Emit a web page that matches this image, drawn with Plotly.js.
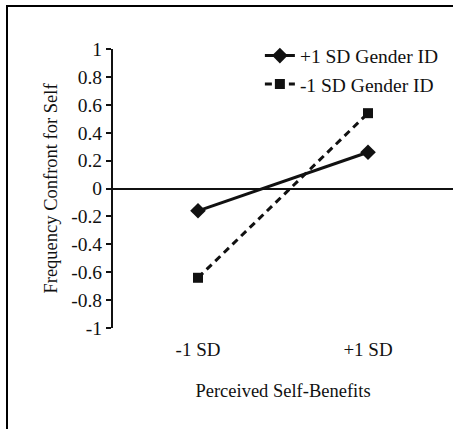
<!DOCTYPE html>
<html>
<head>
<meta charset="utf-8">
<script src="https://cdn.plot.ly/plotly-3.0.1.min.js"></script>
<style>
  html, body { margin: 0; padding: 0; background: #fff; }
  #wrap { position: relative; width: 453px; height: 429px; overflow: hidden; }
  #chart { position: absolute; left: 0; top: 0; width: 453px; height: 429px; }
  #frame { position: absolute; left: 6px; top: 5px; width: 460px; height: 440px;
           border-left: 2px solid #000; border-top: 2px solid #000; pointer-events: none; }
</style>
</head>
<body>
<div id="wrap">
  <div id="chart"></div>
  <div id="frame"></div>
</div>
<script>
const categories = ["-1 SD", "+1 SD"];
const highGenderID = [-0.16, 0.26];
const lowGenderID = [-0.64, 0.54];
const seriesNames = ["+1 SD Gender ID", "-1 SD Gender ID"];
const yTickVals = [-1, -0.8, -0.6, -0.4, -0.2, 0, 0.2, 0.4, 0.6, 0.8, 1];
const yTickText = ["-1", "-0.8", "-0.6", "-0.4", "-0.2", "0", "0.2", "0.4", "0.6", "0.8", "1"];

const font = "Liberation Serif";

const traces = [
  {
    x: categories, y: highGenderID, name: seriesNames[0],
    type: "scatter", mode: "lines+markers",
    line: { color: "#111", width: 3 },
    marker: { symbol: "diamond", size: 12, color: "#111" }
  },
  {
    x: categories, y: lowGenderID, name: seriesNames[1],
    type: "scatter", mode: "lines+markers",
    line: { color: "#111", width: 3, dash: "7px,5px" },
    marker: { symbol: "square", size: 10, color: "#111" }
  }
];

const layout = {
  width: 453, height: 429,
  margin: { l: 113, r: 0, t: 49, b: 101 },
  paper_bgcolor: "#fff", plot_bgcolor: "#fff",
  font: { family: font, size: 18, color: "#111" },
  showlegend: true,
  legend: {
    x: 0.432, y: 1.045, xanchor: "left", yanchor: "top",
    bgcolor: "rgba(0,0,0,0)", font: { family: font, size: 19.5, color: "#111" },
    tracegroupgap: 0
  },
  xaxis: {
    type: "category", range: [-0.5, 1.5],
    showline: false, zeroline: false, showgrid: false, ticks: "",
    ticklabelstandoff: 8,
    tickfont: { family: font, size: 19 },
    title: { text: "Perceived Self-Benefits", font: { family: font, size: 18.5 }, standoff: 25 }
  },
  yaxis: {
    range: [-1, 1], tickvals: yTickVals, ticktext: yTickText,
    showline: true, linecolor: "#111", linewidth: 2,
    ticks: "outside", ticklen: 5, tickwidth: 2, tickcolor: "#111",
    showgrid: false, zeroline: true, zerolinecolor: "#111", zerolinewidth: 2,
    tickfont: { family: font, size: 19.5 },
    title: { text: "Frequency Confront for Self", font: { family: font, size: 18.5 }, standoff: 9 }
  }
};

Plotly.newPlot("chart", traces, layout, { displayModeBar: false, staticPlot: true });
</script>
</body>
</html>
